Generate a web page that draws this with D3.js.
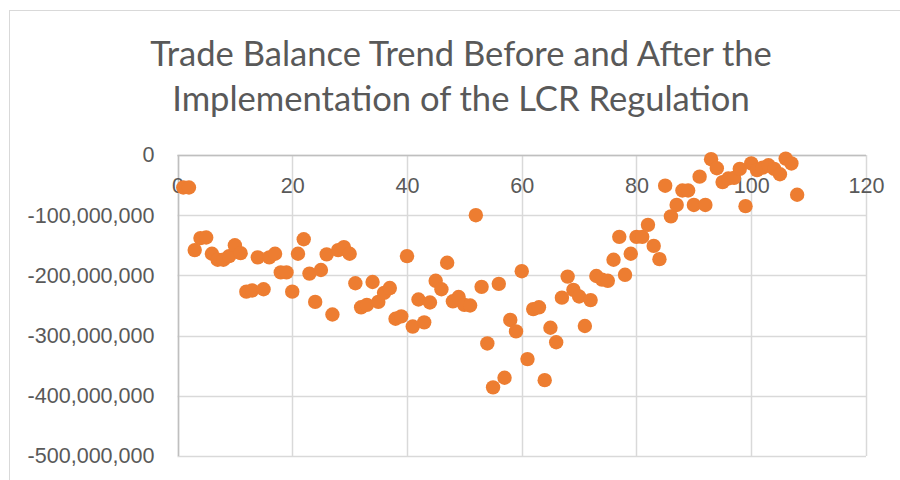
<!DOCTYPE html>
<html><head><meta charset="utf-8">
<script src="https://cdn.jsdelivr.net/npm/d3@7"></script>
<style>body{margin:0;background:#fff;overflow:hidden}</style>
</head><body><svg id="c" width="900" height="480"></svg>
<script>
// ---- data ----
const titleLines = ["Trade Balance Trend Before and After the", "Implementation of the LCR Regulation"];
const xTicks = [0, 20, 40, 60, 80, 100, 120];
const xTickLabels = ["0", "20", "40", "60", "80", "100", "120"];
const yTicks = [0, -100000000, -200000000, -300000000, -400000000, -500000000];
const yTickLabels = ["0", "-100,000,000", "-200,000,000", "-300,000,000", "-400,000,000", "-500,000,000"];
const xValues = [
  1,2,3,4,5,6,7,8,9,10,11,12,13,14,15,16,17,18,19,20,
  21,22,23,24,25,26,27,28,29,30,31,32,33,34,35,36,37,38,39,40,
  41,42,43,44,45,46,47,48,49,50,51,52,53,54,55,56,57,58,59,60,
  61,62,63,64,65,66,67,68,69,70,71,72,73,74,75,76,77,78,79,80,
  81,82,83,84,85,86,87,88,89,90,91,92,93,94,95,96,97,98,99,100,
  101,102,103,104,105,106,107,108];
// trade balance, millions
const balanceMillions = [
  -54,-54,-158,-138,-137,-164,-174,-174,-168,-150,-163,-227,-225,-170,-223,-170,-164,-195,-195,-227,
  -164,-140,-197,-244,-191,-165,-265,-158,-153,-164,-213,-253,-249,-211,-244,-229,-221,-272,-268,-168,
  -285,-240,-278,-245,-209,-223,-179,-243,-236,-249,-250,-100,-219,-313,-386,-214,-370,-274,-293,-193,
  -339,-256,-253,-374,-287,-311,-237,-202,-224,-235,-284,-241,-201,-207,-209,-174,-136,-199,-164,-136,
  -136,-116,-151,-173,-51,-102,-83,-59,-59,-83,-36,-83,-7,-22,-45,-39,-38,-23,-85,-14,
  -25,-21,-17,-23,-32,-6,-14,-66];

// ---- drawing ----
const svg = d3.select("#c");
const txtColor = "#595959";
const fontFam = "'Liberation Sans', Arial, sans-serif";

svg.append("rect").attr("x", 0).attr("y", 0).attr("width", 900).attr("height", 480).attr("fill", "#fff");
svg.append("rect").attr("x", 9.5).attr("y", 10.5).attr("width", 960).attr("height", 560)
  .attr("fill", "none").attr("stroke", "#d9d9d9").attr("stroke-width", 1);

const x = d3.scaleLinear().domain([0, 120]).range([177.5, 866]);
const y = d3.scaleLinear().domain([0, -500000000]).range([155, 456]);

// grid
const g = svg.append("g");
g.selectAll("line.v").data(xTicks).join("line")
  .attr("x1", d => Math.round(x(d)) + 0.5).attr("x2", d => Math.round(x(d)) + 0.5)
  .attr("y1", y(0)).attr("y2", y(-500000000))
  .attr("stroke", "#d9d9d9").attr("stroke-width", 1.5);
g.selectAll("line.h").data(yTicks).join("line")
  .attr("y1", d => Math.round(y(d)) + 0.5).attr("y2", d => Math.round(y(d)) + 0.5)
  .attr("x1", x(0)).attr("x2", x(120))
  .attr("stroke", "#d9d9d9").attr("stroke-width", 1.5);
// axis lines (x axis at y=0, y axis at x=0)
g.append("line").attr("x1", x(0)).attr("x2", x(120)).attr("y1", Math.round(y(0)) + 0.5).attr("y2", Math.round(y(0)) + 0.5)
  .attr("stroke", "#bfbfbf").attr("stroke-width", 1.5);
g.append("line").attr("x1", Math.round(x(0)) + 0.5).attr("x2", Math.round(x(0)) + 0.5).attr("y1", y(0)).attr("y2", y(-500000000))
  .attr("stroke", "#bfbfbf").attr("stroke-width", 1.5);

// measure helper
function fitSize(text, targetW, family, weight) {
  const t = svg.append("text").attr("font-family", family).attr("font-weight", weight || 400)
    .attr("font-size", 100).text(text);
  const w = t.node().getComputedTextLength();
  t.remove();
  return 100 * targetW / w;
}
const tickSize = fitSize("-100,000,000", 127, fontFam);

// y axis
const yAxis = d3.axisLeft(y).tickValues(yTicks).tickSize(0).tickPadding(23)
  .tickFormat((d, i) => yTickLabels[i]);
const ya = svg.append("g").attr("transform", `translate(${x(0)},0)`).call(yAxis);
ya.select(".domain").remove();
ya.selectAll("text").attr("font-family", fontFam).attr("font-size", tickSize).attr("fill", txtColor);

// x axis (labels below the zero line)
const xAxis = d3.axisBottom(x).tickValues(xTicks).tickSize(0).tickPadding(23)
  .tickFormat((d, i) => xTickLabels[i]);
const xa = svg.append("g").attr("transform", `translate(0,${y(0)})`).call(xAxis);
xa.select(".domain").remove();
xa.selectAll("text").attr("font-family", fontFam).attr("font-size", tickSize).attr("fill", txtColor);

// points
const pts = xValues.map((v, i) => ({x: v, y: balanceMillions[i] * 1e6}));
svg.append("g").selectAll("circle").data(pts).join("circle")
  .attr("cx", d => x(d.x)).attr("cy", d => y(d.y)).attr("r", 7.2)
  .attr("fill", "#ED7D31");

// title
const titleFam = "Lato, 'Open Sans', sans-serif";
const titleSize = fitSize(titleLines[0], 622, titleFam, 400);
svg.append("g").selectAll("text").data(titleLines).join("text")
  .attr("x", 461).attr("y", (d, i) => 66 + i * 45)
  .attr("text-anchor", "middle").attr("font-family", titleFam).attr("font-weight", 400)
  .attr("font-size", titleSize).attr("fill", txtColor).text(d => d);
</script>
</body></html>
